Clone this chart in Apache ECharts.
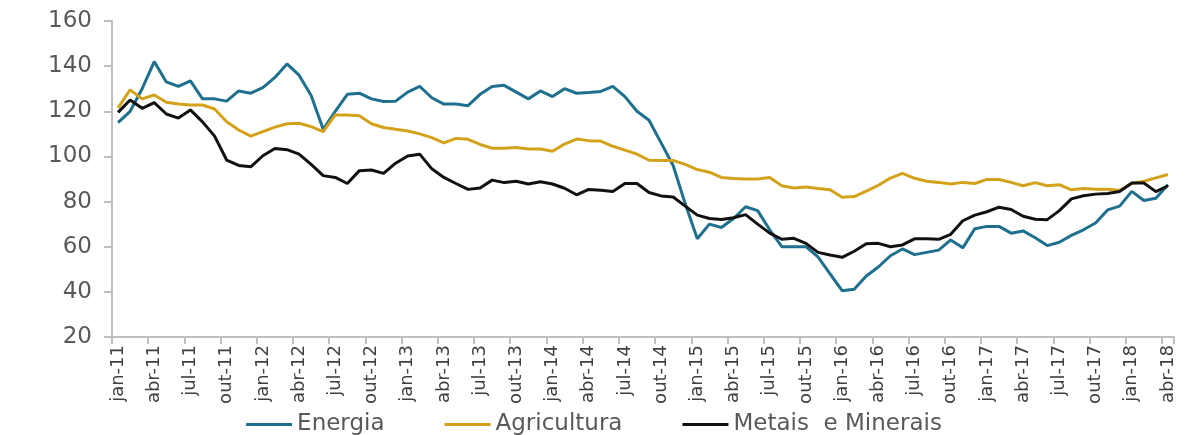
<!DOCTYPE html>
<html><head><meta charset="utf-8">
<script src="https://cdn.jsdelivr.net/npm/echarts@6/dist/echarts.min.js"></script>
<style>html,body{margin:0;padding:0;background:#fff}#c{width:1188px;height:435px}</style>
</head><body><div id="c"></div>
<script>
const monthNames = ['jan','fev','mar','abr','mai','jun','jul','ago','set','out','nov','dez'];
const categories = [];
for (let y = 11; y <= 18; y++) { for (let m = 0; m < 12; m++) { if (y === 18 && m > 3) break; categories.push(monthNames[m] + '-' + y); } }

const energia = [115,120,130,142,133,131,133.5,125.5,125.5,124.5,129,128,130.5,135,141,136,127,112,120,127.5,128,125.5,124.3,124.5,128.5,131,126,123.2,123.2,122.5,127.5,131,131.5,128.5,125.5,129,126.5,130,128,128.3,128.8,131,126.5,120,116,106,96,79,63.5,70,68.5,72.5,77.7,76,67.5,60,60,60,55.5,48,40.5,41.2,47,51,56,59,56.5,57.5,58.5,63,59.5,68,69,69,66,67,64,60.5,62,65,67.5,70.5,76.3,78,84.5,80.5,81.5,87.5];
const agricultura = [121.5,129.5,125.5,127.2,124,123.2,122.8,122.8,121,115.4,111.7,109,111,113,114.5,114.7,113.2,111,118.4,118.4,118,114.5,112.8,112,111.3,110,108.3,106,108,107.6,105.3,103.6,103.6,104,103.3,103.3,102.3,105.5,107.7,107,106.8,104.5,102.8,101,98.3,98.2,98.2,96.5,94.2,93,90.7,90.2,90,90,90.7,87,86,86.5,85.8,85.2,81.9,82.2,84.6,87.2,90.4,92.5,90.3,89,88.5,87.8,88.5,88,89.8,89.8,88.5,87,88.4,87,87.5,85.2,85.8,85.5,85.5,85,88,89,90.5,92];
const metais = [119.5,125,121.3,123.8,118.8,117,120.6,115.3,109,98.4,96,95.4,100.3,103.5,103,101,96.5,91.5,90.7,88,93.7,94,92.5,97,100.2,101,94.5,90.7,88,85.4,86,89.5,88.4,89,87.8,88.8,87.8,85.9,83,85.4,85,84.5,88,88,84,82.5,82,78,74,72.5,72.1,72.8,74.2,70,66,63.3,63.7,61.5,57.5,56.3,55.3,58,61.3,61.5,60,60.8,63.5,63.5,63.3,65.5,71.5,74,75.5,77.5,76.5,73.5,72.2,72,76,81.2,82.6,83.3,83.6,84.5,88.2,88.2,84.4,87];
const seriesNames = ['Energia', 'Agricultura', 'Metais  e Minerais'];
const colors = ['#1f6f8e', '#d4a21a', '#111111'];

const chart = echarts.init(document.getElementById('c'));
const mk = (name, data, color) => ({
  name, type: 'line', data, symbol: 'none', smooth: false,
  lineStyle: { width: 3, color }, itemStyle: { color }
});
chart.setOption({
  animation: false,
  textStyle: { fontFamily: 'DejaVu Sans' },
  grid: { left: 112, right: 14, top: 21, bottom: 98 },
  legend: {
    top: 408, left: 'center', itemGap: 60, itemWidth: 46, itemHeight: 3,
    icon: 'rect',
    textStyle: { fontSize: 23, color: '#595959', fontFamily: 'DejaVu Sans' },
    data: seriesNames
  },
  xAxis: {
    type: 'category', data: categories, boundaryGap: true,
    axisLine: { lineStyle: { color: '#bfbfbf', width: 2 } },
    axisTick: { show: true, interval: 2, length: 7, lineStyle: { color: '#bfbfbf', width: 2 } },
    axisLabel: { interval: 2, rotate: 90, fontSize: 18, color: '#404040', margin: 8 }
  },
  yAxis: {
    type: 'value', min: 20, max: 160, interval: 20,
    axisLine: { show: true, lineStyle: { color: '#bfbfbf', width: 2 } },
    axisTick: { show: true, length: 8, lineStyle: { color: '#bfbfbf', width: 2 } },
    splitLine: { show: false },
    axisLabel: { fontSize: 23, color: '#595959', margin: 20 }
  },
  series: [mk(seriesNames[0], energia, colors[0]), mk(seriesNames[1], agricultura, colors[1]), mk(seriesNames[2], metais, colors[2])]
});
</script></body></html>
